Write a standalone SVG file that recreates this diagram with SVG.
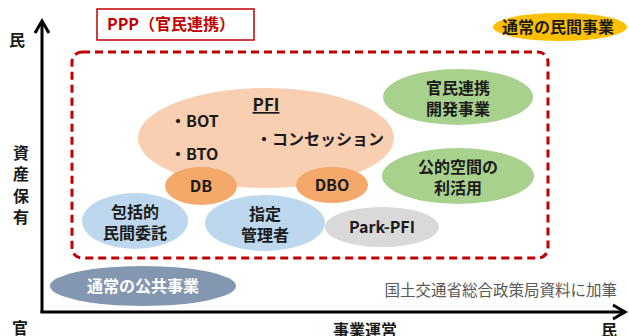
<svg xmlns="http://www.w3.org/2000/svg" width="629" height="336" viewBox="0 0 629 336">
<style>
text{font-family:"Noto Sans CJK JP","Noto Sans",sans-serif;font-weight:bold;font-size:16px;fill:#1a1a1a;text-anchor:middle}
.ax{stroke:#000;stroke-width:3;fill:none}
</style>
<rect width="629" height="336" fill="#fff"/>
<g id="axes">
<line class="ax" x1="42" y1="22" x2="42" y2="313"/>
<line class="ax" x1="40.5" y1="312" x2="624" y2="312"/>
<polyline class="ax" points="35,33 42,21 49,33"/>
<polyline class="ax" points="613,305 625,312 613,319"/>
<text x="17" y="46">民</text>
<text x="21" y="159">資</text>
<text x="21" y="180">産</text>
<text x="21" y="202">保</text>
<text x="21" y="223">有</text>
<text x="20" y="334">官</text>
<text x="365" y="336">事業運営</text>
<text x="609" y="336">民</text>
</g>
<g id="ppp-label">
<rect x="97" y="9" width="157" height="31" fill="#fff" stroke="#c00000" stroke-width="1.5"/>
<text x="171" y="30" style="fill:#c00000;font-size:16px">PPP（官民連携）</text>
</g>
<g id="ppp-boundary">
<rect x="72" y="52" width="476" height="206" rx="10" fill="none" stroke="#c00000" stroke-width="3" stroke-dasharray="8 5"/>
</g>
<g id="private">
<ellipse cx="560" cy="27" rx="67" ry="14" fill="#ffc000"/>
<text x="558" y="33">通常の民間事業</text>
</g>
<g id="pfi">
<ellipse cx="266" cy="138" rx="128" ry="50" fill="#f8cfb0"/>
<text x="266" y="111" style="font-size:17px;text-decoration:underline">PFI</text>
<text x="170" y="127" style="text-anchor:start">・BOT</text>
<text x="170" y="160" style="text-anchor:start">・BTO</text>
<text x="256" y="145" style="text-anchor:start">・コンセッション</text>
</g>
<g id="db">
<ellipse cx="201" cy="186" rx="36" ry="19" fill="#f4a96a"/>
<text x="201" y="192">DB</text>
</g>
<g id="dbo">
<ellipse cx="332" cy="185" rx="36" ry="18" fill="#f4a96a"/>
<text x="332" y="191">DBO</text>
</g>
<g id="kanmin">
<ellipse cx="458" cy="97" rx="75" ry="28" fill="#a9d18e"/>
<text x="458" y="94">官民連携</text>
<text x="458" y="115">開発事業</text>
</g>
<g id="koteki">
<ellipse cx="458" cy="176" rx="76" ry="28" fill="#a9d18e"/>
<text x="458" y="173">公的空間の</text>
<text x="458" y="194">利活用</text>
</g>
<g id="hokatsu">
<ellipse cx="135" cy="221" rx="53" ry="28" fill="#bdd7ee"/>
<text x="135" y="218">包括的</text>
<text x="135" y="239">民間委託</text>
</g>
<g id="shitei">
<ellipse cx="265" cy="223" rx="60" ry="28" fill="#bdd7ee"/>
<text x="265" y="220">指定</text>
<text x="265" y="241">管理者</text>
</g>
<g id="parkpfi">
<ellipse cx="382" cy="227" rx="57" ry="20" fill="#d9d9d9"/>
<text x="382" y="233">Park-PFI</text>
</g>
<g id="public">
<ellipse cx="143" cy="286" rx="93" ry="20" fill="#8497b0"/>
<text x="143" y="292" style="fill:#fff">通常の公共事業</text>
</g>
<g id="source">
<text x="617" y="296" style="font-weight:normal;font-size:15.5px;fill:#595959;text-anchor:end">国土交通省総合政策局資料に加筆</text>
</g>
</svg>
